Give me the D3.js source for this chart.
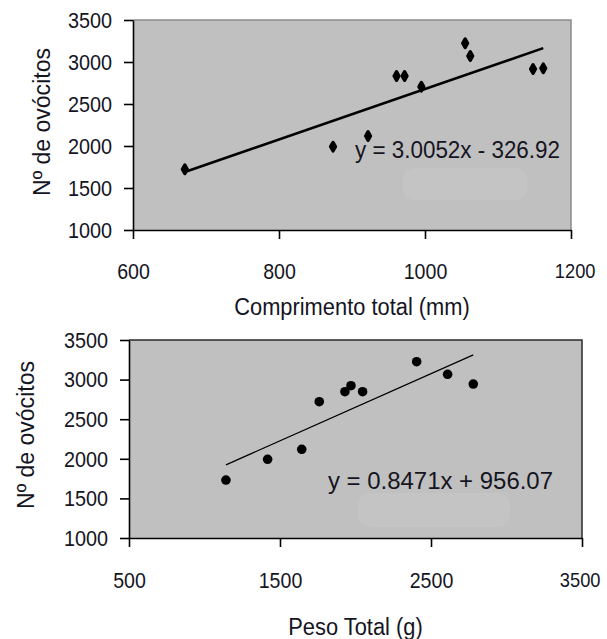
<!DOCTYPE html>
<html>
<head>
<meta charset="utf-8">
<script src="https://cdn.jsdelivr.net/npm/d3@7"></script>
<style>
  body { margin: 0; background: #fff; }
  svg text { font-family: "Liberation Sans", Arial, sans-serif; fill: #15151f; }
</style>
</head>
<body>
<div id="chart"></div>
<script>
// panel 1: comprimento total vs nº de ovócitos
const comprimento = [671, 874, 922, 961, 972, 995, 1055, 1062, 1148, 1162];
const ovocitos1 = [1723, 1992, 2119, 2833, 2833, 2706, 3223, 3071, 2917, 2925];
const fit1 = [3.0052, -326.92];
const xTicks1 = [600, 800, 1000, 1200];

// panel 2: peso total vs nº de ovócitos
const peso = [1142, 1418, 1644, 1760, 1930, 1970, 2047, 2405, 2610, 2780];
const ovocitos2 = [1732, 1994, 2120, 2721, 2847, 2923, 2847, 3226, 3067, 2944];
const fit2 = [0.8471, 956.07];
const xTicks2 = [500, 1500, 2500, 3500];

const yTicks = [1000, 1500, 2000, 2500, 3000, 3500];

const svg = d3.select('#chart').append('svg')
  .attr('width', 607)
  .attr('height', 639);

// squeeze text horizontally (the source glyphs are narrow and tall)
function squeeze(sel, k) {
  sel.each(function() {
    const w = this.getComputedTextLength();
    d3.select(this).attr('textLength', w * k).attr('lengthAdjust', 'spacingAndGlyphs');
  });
}

function panel(o) {
  const x = d3.scaleLinear().domain(o.xDomain).range([o.left, o.right]);
  const y = d3.scaleLinear().domain([1000, 3500]).range([o.bottom, o.top]);
  const g = svg.append('g');

  g.append('rect')
    .attr('x', o.left).attr('y', o.top)
    .attr('width', o.right - o.left).attr('height', o.bottom - o.top)
    .attr('fill', '#c0c0c0');
  // top and right frame
  g.append('path')
    .attr('d', `M${o.left},${o.top}H${o.right}V${o.bottom}`)
    .attr('fill', 'none')
    .attr('stroke', o.frame)
    .attr('stroke-width', 1.5);

  // faint erased patch under the equation
  g.append('rect')
    .attr('x', o.patch[0]).attr('y', o.patch[1])
    .attr('width', o.patch[2]).attr('height', o.patch[3])
    .attr('rx', 12)
    .attr('fill', '#c4c4c4');

  const xs = o.xData, ys = o.yData;
  const x0 = d3.min(xs), x1 = d3.max(xs);
  g.append('line')
    .attr('x1', x(x0)).attr('y1', y(o.fit[0] * x0 + o.fit[1]))
    .attr('x2', x(x1)).attr('y2', y(o.fit[0] * x1 + o.fit[1]))
    .attr('stroke', '#000')
    .attr('stroke-width', o.lineW);

  if (o.diamond) {
    g.selectAll('path.pt').data(xs).enter().append('path')
      .attr('class', 'pt')
      .attr('d', d3.symbol().type(d3.symbolDiamond).size(22))
      .attr('transform', (d, i) => `translate(${x(d)},${y(ys[i])})`)
      .attr('fill', '#000')
      .attr('stroke', '#000')
      .attr('stroke-width', 3.2)
      .attr('stroke-linejoin', 'round');
  } else {
    g.selectAll('circle').data(xs).enter().append('circle')
      .attr('cx', d => x(d))
      .attr('cy', (d, i) => y(ys[i]))
      .attr('r', 4.8)
      .attr('fill', '#000');
  }

  const yAxis = g.append('g')
    .attr('transform', `translate(${o.left},0)`)
    .call(d3.axisLeft(y).tickValues(yTicks).tickSize(9).tickSizeOuter(0).tickPadding(o.yPad).tickFormat(d3.format('d')));
  const xAxis = g.append('g')
    .attr('transform', `translate(0,${o.bottom})`)
    .call(d3.axisBottom(x).tickValues(o.xTicks).tickSize(9).tickSizeOuter(0).tickPadding(o.xPad).tickFormat(d3.format('d')));
  [yAxis, xAxis].forEach(a => {
    a.selectAll('path, line').attr('stroke', '#000').attr('stroke-width', 1.6);
    a.selectAll('text').style('font-size', '22.5px').attr('fill', '#15151f');
  });
  // last label sits against the page edge: a touch smaller, anchored at its right end
  xAxis.selectAll('.tick:last-of-type text')
    .style('font-size', '21px')
    .attr('text-anchor', 'end')
    .attr('x', o.lastShift);
  squeeze(yAxis.selectAll('text'), 0.88);
  squeeze(xAxis.selectAll('text'), 0.87);

  g.append('text')
    .attr('x', o.eq[0]).attr('y', o.eq[1])
    .attr('textLength', o.eq[2]).attr('lengthAdjust', 'spacingAndGlyphs')
    .style('font-size', '23.5px')
    .text(o.eqText);

  const xt = g.append('text')
    .attr('x', (o.left + o.right) / 2 + o.xTitle[0]).attr('y', o.xTitle[1])
    .attr('text-anchor', 'middle')
    .style('font-size', '23.5px')
    .text(o.xLabel);
  squeeze(xt, 0.93);

  g.append('text')
    .attr('transform', `translate(${o.yTitle[0]},${o.yTitle[1]}) rotate(-90)`)
    .attr('text-anchor', 'middle')
    .attr('textLength', 148).attr('lengthAdjust', 'spacingAndGlyphs')
    .style('font-size', '23.5px')
    .text('Nº de ovócitos');
}

panel({
  left: 133, right: 571, top: 20, bottom: 230,
  xDomain: [600, 1200], xTicks: xTicks1,
  xData: comprimento, yData: ovocitos1, fit: fit1,
  frame: '#8a8a8a', lineW: 2.6, diamond: true,
  yPad: 12, xPad: 24, lastShift: 24,
  patch: [403, 168, 124, 32],
  eq: [355, 158, 205], eqText: 'y = 3.0052x - 326.92',
  xLabel: 'Comprimento total (mm)', xTitle: [0, 315],
  yTitle: [50, 122]
});

panel({
  left: 129, right: 582, top: 340, bottom: 538,
  xDomain: [500, 3500], xTicks: xTicks2,
  xData: peso, yData: ovocitos2, fit: fit2,
  frame: '#2a2a2a', lineW: 1.3, diamond: false,
  yPad: 12, xPad: 25, lastShift: 18,
  patch: [358, 493, 152, 34],
  eq: [328, 489, 225], eqText: 'y = 0.8471x + 956.07',
  xLabel: 'Peso Total (g)', xTitle: [0, 635],
  yTitle: [34, 435]
});
</script>
</body>
</html>
